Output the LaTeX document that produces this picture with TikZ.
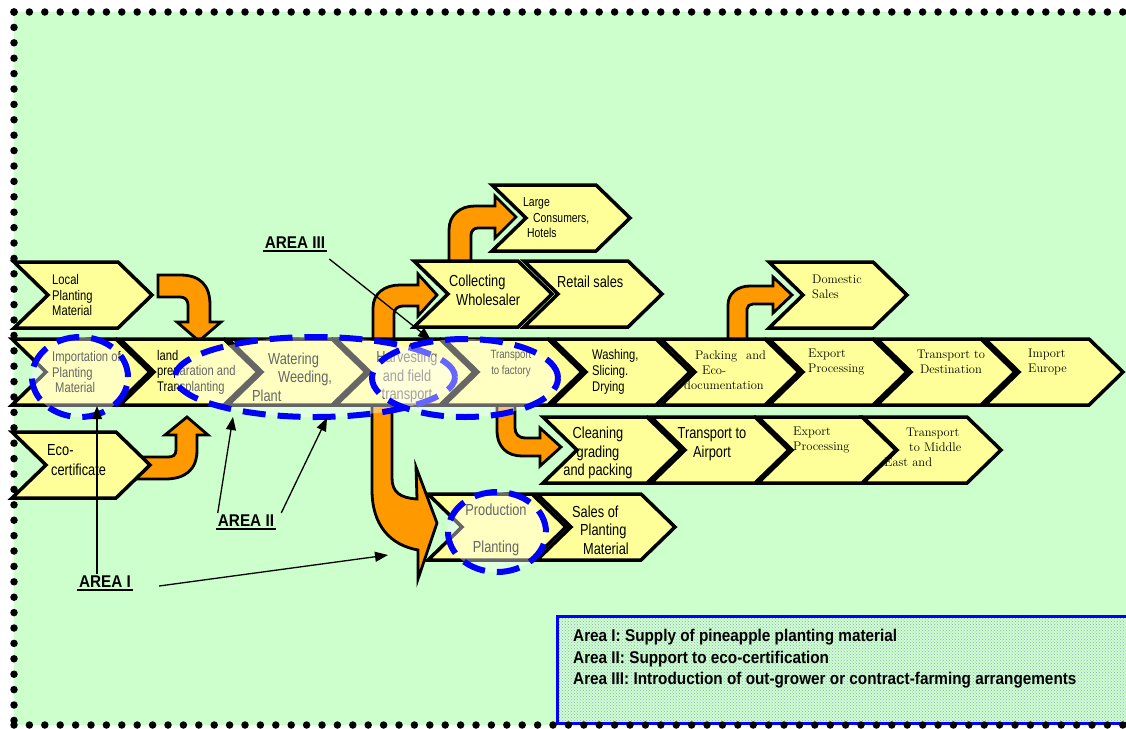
\documentclass[tikz,border=0pt]{standalone}
\usepackage{fontspec}
\newfontfamily\nsans[FakeStretch=0.8]{Liberation Sans}
\newfontfamily\lsans[FakeStretch=0.9]{Liberation Sans}
\usetikzlibrary{arrows.meta,patterns}
\definecolor{bg}{RGB}{204,255,204}
\definecolor{chevfill}{RGB}{255,255,153}
\definecolor{orng}{RGB}{255,153,0}
\definecolor{ellblue}{RGB}{0,0,255}
\definecolor{legdot}{RGB}{150,170,200}
\tikzset{
 chev/.style={draw=black, line width=3.5pt, fill=chevfill, line join=miter},
 oarrow/.style={draw=black, line width=2.8pt, fill=orng, line join=miter},
 ss/.style={font=\nsans\fontsize{14}{15.5}\selectfont, inner sep=0pt},
 sl/.style={font=\nsans\fontsize{16}{18.5}\selectfont, inner sep=0pt},
 sr/.style={font=\fontsize{12.5}{15}\selectfont, inner sep=0pt},
 area/.style={draw=ellblue, line width=6pt, dash pattern=on 23pt off 12pt, fill=white, fill opacity=0.4},
 pointer/.style={draw=black, line width=1.3pt, -{Triangle[length=13pt,width=10pt]}},
 arealabel/.style={font=\lsans\bfseries\fontsize{17}{20}\selectfont, inner sep=2pt},
 dotline/.style={line width=7.5pt, line cap=round, dash pattern=on 0pt off 15.4pt},
}
\newcommand\chevshape[2]{%
 \draw[chev] (#1-138,#2-33) -- (#1-34,#2-33) -- (#1,#2) -- (#1-34,#2+33) -- (#1-138,#2+33) -- (#1-104,#2) -- cycle;}
\begin{document}
\begin{tikzpicture}[x=1pt,y=-1pt]
\useasboundingbox (0,0) rectangle (1126,728);
\clip (0,0) rectangle (1126,728);
\fill[white] (0,0) rectangle (1126,728);
\fill[bg] (14,12) rectangle (1140,725);
% legend box
\draw[ellblue, line width=3pt, fill=bg] (557,616) rectangle (1140,723);
\fill[pattern=crosshatch dots, pattern color=legdot] (559,618) rectangle (1140,721);
% dotted border
\draw[dotline] (14,12) -- (1140,12);
\draw[dotline] (14,12) -- (14,725);
\draw[dotline] (14,725) -- (1140,725);

% orange arrows
\draw[oarrow] (158,275) -- (180,275) .. controls (200,275) and (210,285) .. (210,305) -- (210,322) -- (221,322) -- (199,341) -- (177,322) -- (188,322) -- (188,305) .. controls (188,300) and (185,297) .. (180,297) -- (158,297) -- cycle;
\draw[oarrow] (135,457) -- (168,457) .. controls (173,457) and (176,455) .. (176,450) -- (176,435) -- (165,435) -- (187,417) -- (208,435) -- (197,435) -- (197,450) .. controls (197,470) and (185,479) .. (165,479) -- (135,479) -- cycle;
\draw[oarrow] (373,345) -- (373,308) .. controls (373,293) and (385,285) .. (400,285) -- (418,285) -- (418,274) -- (437,295) -- (418,316) -- (418,306) -- (403,306) .. controls (398,306) and (394,309) .. (394,314) -- (394,345) -- cycle;
\draw[oarrow] (449,268) -- (449,230) .. controls (449,215) and (460,206) .. (475,206) -- (495,206) -- (495,196) -- (516,217) -- (495,238) -- (495,228) -- (478,228) .. controls (474,228) and (471,231) .. (471,235) -- (471,268) -- cycle;
\draw[oarrow] (728,345) -- (728,305) .. controls (728,293) and (738,286) .. (750,286) -- (773,286) -- (773,277) -- (792,295) -- (773,313) -- (773,304) -- (753,304) .. controls (750,304) and (747,306) .. (747,309) -- (747,345) -- cycle;
\draw[oarrow] (497,400) -- (497,430) .. controls (497,447) and (507,456) .. (522,456) -- (540,456) -- (540,466) -- (561,447) -- (540,428) -- (540,438) -- (525,438) .. controls (519,438) and (515,434) .. (515,428) -- (515,400) -- cycle;
\draw[oarrow] (372,400) -- (392,400) -- (392,478) .. controls (392,492) and (400,498) .. (417,499) -- (416,467) -- (437,523) -- (418,579) -- (418,550) .. controls (390,545) and (372,525) .. (372,490) -- cycle;

% chevrons: top row
\chevshape{152}{295}
\chevshape{630}{218}
\chevshape{552}{294}
\chevshape{662}{294}
\chevshape{907}{295}
% main row
\chevshape{150}{372}
\chevshape{258}{372}
\chevshape{366}{372}
\chevshape{474}{372}
\chevshape{582}{372}
\chevshape{690}{372}
\chevshape{799}{372}
\chevshape{907}{372}
\chevshape{1015}{372}
\chevshape{1123}{372}
% third row
\chevshape{150}{465}
\chevshape{681}{450}
\chevshape{789}{450}
\chevshape{896}{450}
\chevshape{1001}{450}
% fourth row
\chevshape{566}{527}
\chevshape{675}{527}

% texts
\node[ss, anchor=west, align=left] (local) at (52,295) {Local\\Planting\\Material};
\node[ss, anchor=west, align=left] (import) at (52,372) {Importation of\\Planting\\\hspace*{3pt}Material};
\node[ss, anchor=west, align=left] (land) at (157,372) {land\\preparation and\\Transplanting};
\node[sl, anchor=west, align=left] (water) at (252,377) {\hspace*{16pt}Watering\\\hspace*{26pt}Weeding,\\Plant};
\node[sl, align=center] (harvest) at (407,377) {Harvesting\\and field\\transport};
\node[font=\nsans\fontsize{12}{16}\selectfont, inner sep=0pt, align=center] (tfact) at (511,364) {Transport\\to factory};
\node[font=\nsans\fontsize{14}{16}\selectfont, inner sep=0pt, anchor=west, align=left] (wash) at (592,372) {Washing,\\Slicing.\\Drying};
\node[sr, anchor=west, align=left] (pack) at (684,370) {\hspace*{11pt}Packing\hspace{9pt}and\\\hspace*{18pt}Eco-\\documentation};
\node[sr, anchor=west, align=left] (exp1) at (808,362) {Export\\Processing};
\node[sr, align=center] (dest) at (951,362) {Transport to\\Destination};
\node[sr, anchor=west, align=left] (europe) at (1028,362) {Import\\Europe};
\node[sr, anchor=west, align=left] (domestic) at (812,287) {Domestic\\Sales};
\node[font=\nsans\fontsize{13}{15.5}\selectfont, inner sep=0pt, anchor=west, align=left] (large) at (523,218) {Large\\\hspace*{10pt}Consumers,\\\hspace*{4pt}Hotels};
\node[font=\nsans\fontsize{16}{19}\selectfont, inner sep=0pt, anchor=west, align=left] (collect) at (449,290) {Collecting\\\hspace*{7pt}Wholesaler};
\node[sl, anchor=west] (retail) at (557,282) {Retail sales};
\node[font=\nsans\fontsize{16}{20}\selectfont, inner sep=0pt, anchor=west, align=left] (eco) at (47,460) {Eco-\\\hspace*{4pt}certificate};
\node[sl, align=center] (clean) at (598,453) {Cleaning\\grading\\and packing};
\node[sl, align=center] (airport) at (712,444) {Transport to\\Airport};
\node[sr, anchor=west, align=left] (exp2) at (793,440) {Export\\Processing};
\node[sr, anchor=west, align=left] (middle) at (884,447) {\hspace*{22pt}Transport\\\hspace*{25pt}to Middle\\East and};
\node[sl, align=center] (prod) at (496,530) {Production\\[18.5pt]Planting};
\node[sl, anchor=west, align=left] (salesp) at (572,530) {Sales of\\\hspace*{8pt}Planting\\\hspace*{11pt}Material};

% highlighted areas
\draw[area] (315,377) ellipse [x radius=140pt, y radius=40pt];
\draw[area] (465,378) ellipse [x radius=93pt, y radius=39pt];
\draw[area] (80,377) ellipse [x radius=48pt, y radius=40pt];
\draw[area] (497,532) ellipse [x radius=49pt, y radius=40pt];

% legend text
\node[font=\lsans\bfseries\fontsize{17}{21.5}\selectfont, anchor=north west, align=left, inner sep=0pt] (legend) at (573,629) {Area I: Supply of pineapple planting material\\Area II: Support to eco-certification\\Area III: Introduction of out-grower or contract-farming arrangements};

% area labels and pointers
\node[arealabel] (areaIII) at (295,243) {AREA III};
\node[arealabel] (areaII) at (246,521) {AREA II};
\node[arealabel] (areaI) at (105,582) {AREA I};
\draw[line width=1.8pt] (areaIII.south west) -- (areaIII.south east);
\draw[line width=1.8pt] (areaII.south west) -- (areaII.south east);
\draw[line width=1.8pt] (areaI.south west) -- (areaI.south east);
\coordinate (p1) at (97,406);
\coordinate (p1b) at (388,555);
\coordinate (p2a) at (233,417);
\coordinate (p2b) at (327,418);
\coordinate (p3) at (431,340);
\draw[pointer] (areaI.north -| p1) -- (p1);
\draw[pointer] ([xshift=26pt,yshift=-4pt]areaI.east) -- (p1b);
\draw[pointer] ([xshift=2pt]areaII.north west) -- (p2a);
\draw[pointer] ([xshift=5pt]areaII.north east) -- (p2b);
\draw[pointer] ([xshift=2pt,yshift=-8pt]areaIII.south east) -- (p3);
\end{tikzpicture}
\end{document}
